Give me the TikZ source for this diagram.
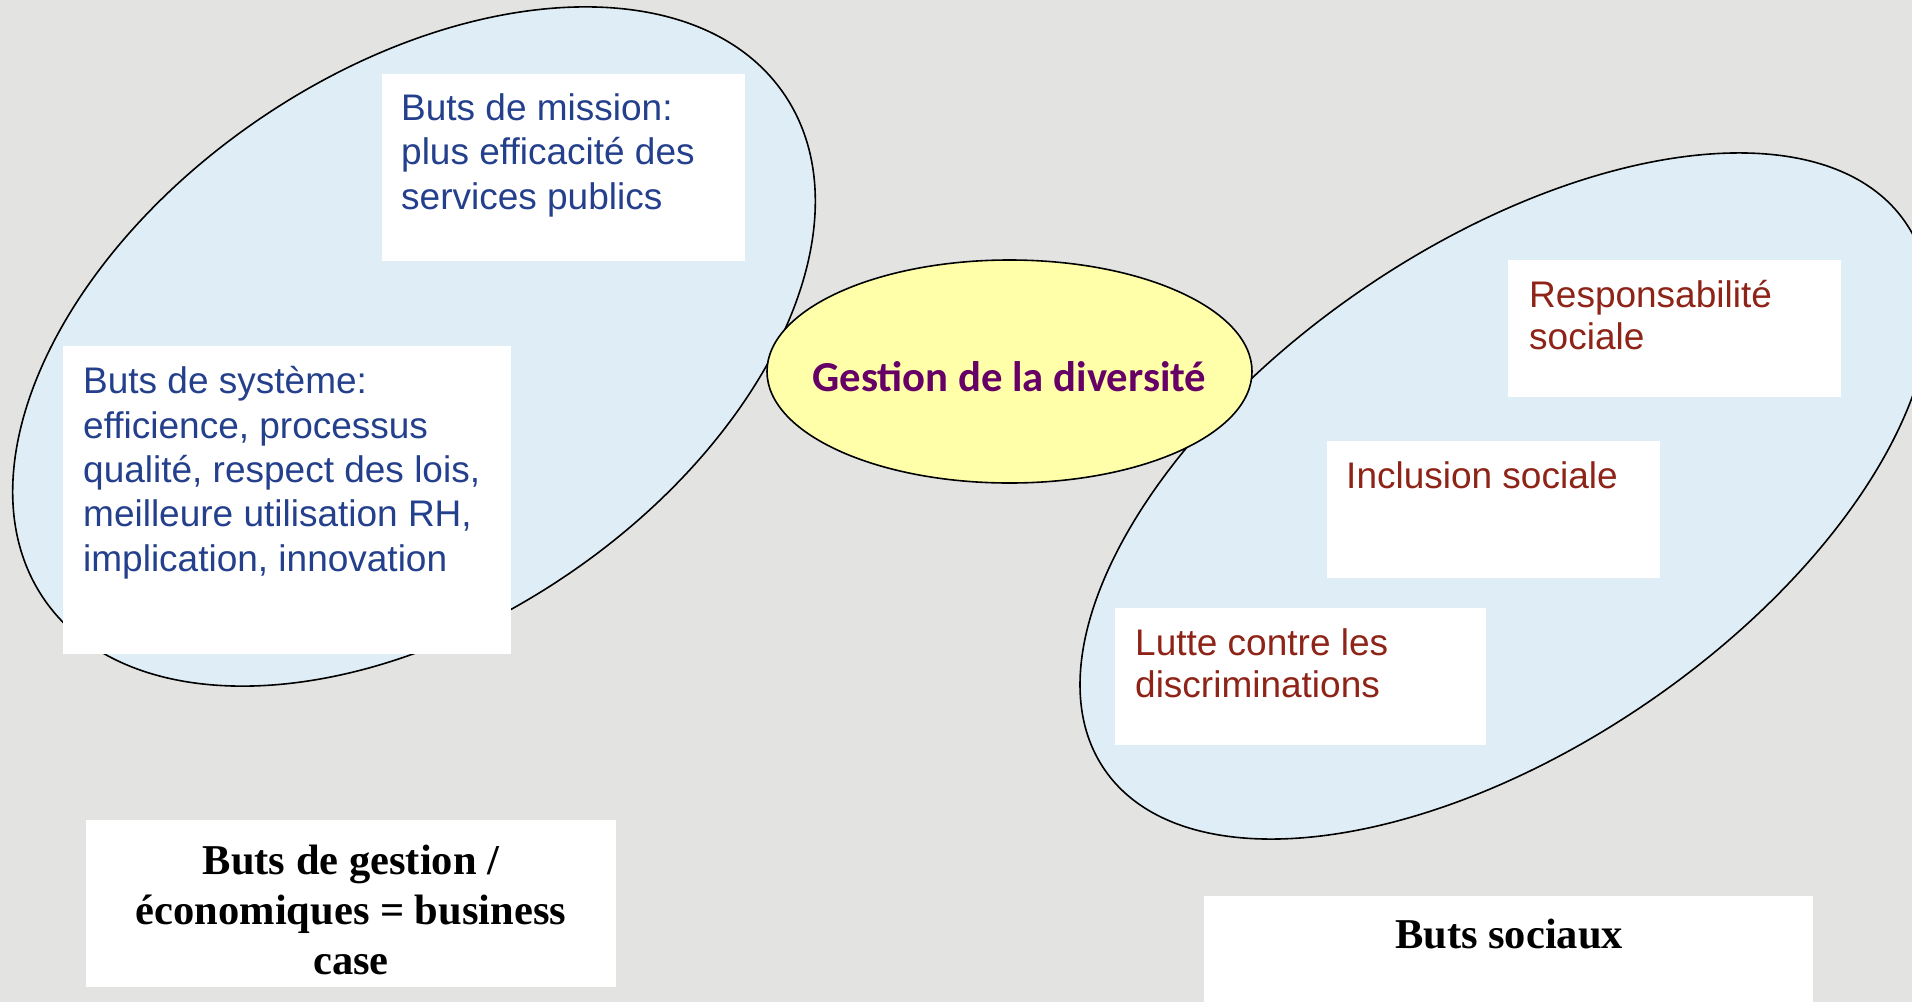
\documentclass[tikz,border=0pt]{standalone}
\usepackage{fontspec}
\setmainfont{Liberation Sans}
\newfontfamily\serifb{Liberation Serif}
\newfontfamily\calib{Carlito}
\usetikzlibrary{shapes.geometric}
\definecolor{bgc}{RGB}{227,227,225}
\definecolor{elblue}{RGB}{223,238,246}
\definecolor{elyel}{RGB}{255,255,170}
\definecolor{txblue}{RGB}{36,64,140}
\definecolor{txred}{RGB}{142,35,24}
\definecolor{txpurp}{RGB}{102,0,102}
\begin{document}
\begin{tikzpicture}[x=1pt,y=-1pt,
  goal/.style={ellipse, draw=black, line width=1.6pt, fill=elblue, inner sep=0pt},
  centre/.style={ellipse, draw=black, line width=1.6pt, fill=elyel, inner sep=0pt},
  wbox/.style={fill=white, draw=none, inner sep=0pt, anchor=north west},
  bluetxt/.style={anchor=base west, inner sep=0pt, align=left, text=txblue, font=\fontsize{37}{44.3}\selectfont},
  redtxt/.style={anchor=base west, inner sep=0pt, align=left, text=txred, font=\fontsize{37}{42.5}\selectfont},
  captxt/.style={anchor=base, inner sep=0pt, align=center, font=\serifb\bfseries\fontsize{42.5}{50}\selectfont}]
\useasboundingbox (0,0) rectangle (1912,1002);
\fill[bgc] (0,0) rectangle (1912,1002);
\clip (0,0) rectangle (1912,1002);
% ellipses
\node[goal, minimum width=896pt, minimum height=550pt, rotate=34.3] (left) at (414,346.5) {};
\node[goal, minimum width=970pt, minimum height=502pt, rotate=34.3] (right) at (1505,496) {};
% white boxes
\node[wbox, minimum width=363pt, minimum height=187pt] (mbox) at (382,74) {};
\node[wbox, minimum width=448pt, minimum height=308pt] (sbox) at (63,346) {};
\node[wbox, minimum width=333pt, minimum height=137pt] (rbox) at (1508,260) {};
\node[wbox, minimum width=333pt, minimum height=137pt] (ibox) at (1327,441) {};
\node[wbox, minimum width=371pt, minimum height=137pt] (lbox) at (1115,608) {};
\node[wbox, minimum width=530pt, minimum height=167pt] (gbox) at (86,820) {};
\node[wbox, minimum width=609pt, minimum height=120pt] (sobox) at (1204,896) {};
% texts (base anchor = baseline of the last line)
\node[bluetxt] (mtxt) at (401,209) {Buts de mission:\\plus efficacité des\\services publics};
\node[bluetxt] (stxt) at (83,571) {Buts de système:\\efficience, processus\\qualité, respect des lois,\\meilleure utilisation RH,\\implication, innovation};
\node[redtxt] (rtxt) at (1529,349.5) {Responsabilité\\sociale};
\node[redtxt] (itxt) at (1346,488) {Inclusion sociale};
\node[redtxt] (ltxt) at (1135,697.5) {Lutte contre les\\discriminations};
\node[captxt] (gtxt) at (351,974) {Buts de gestion /\\économiques = business\\case};
\node[captxt] (sotxt) at (1509,948) {Buts sociaux};
% centre
\node[centre, minimum width=485pt, minimum height=223pt] (gest) at (1009.5,371.5) {};
\node[anchor=base, inner sep=0pt, text=txpurp, font=\calib\bfseries\fontsize{42.7}{50}\selectfont] (gesttxt) at (1009.5,391) {Gestion de la diversité};
\end{tikzpicture}
\end{document}
